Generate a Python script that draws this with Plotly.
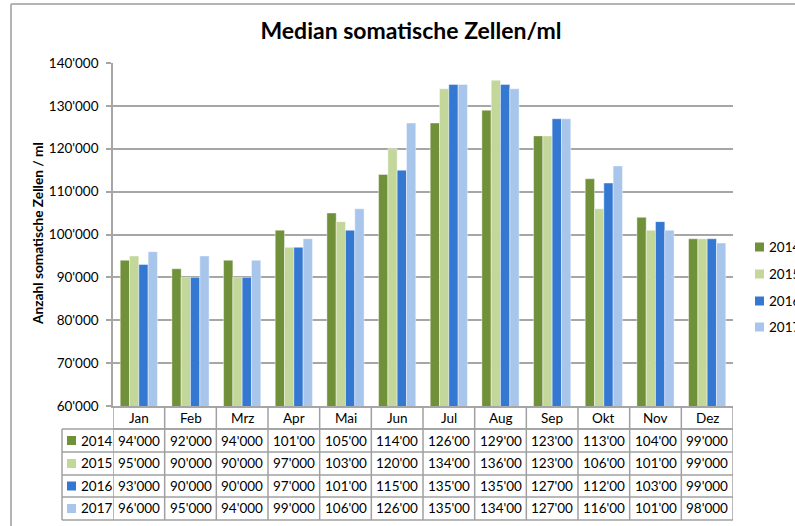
import plotly.graph_objects as go

months = ["Jan", "Feb", "Mrz", "Apr", "Mai", "Jun", "Jul", "Aug", "Sep", "Okt", "Nov", "Dez"]
years = ["2014", "2015", "2016", "2017"]
v2014 = [94000, 92000, 94000, 101000, 105000, 114000, 126000, 129000, 123000, 113000, 104000, 99000]
v2015 = [95000, 90000, 90000, 97000, 103000, 120000, 134000, 136000, 123000, 106000, 101000, 99000]
v2016 = [93000, 90000, 90000, 97000, 101000, 115000, 135000, 135000, 127000, 112000, 103000, 99000]
v2017 = [96000, 95000, 94000, 99000, 106000, 126000, 135000, 134000, 127000, 116000, 101000, 98000]
series = [v2014, v2015, v2016, v2017]
colors = ["#71903A", "#C4D79B", "#3478D2", "#A8C6EC"]
yticks = [60000, 70000, 80000, 90000, 100000, 110000, 120000, 130000, 140000]

W, H = 795, 526
L, R, T, B = 113, 733, 63, 406
FONT = "Lato"

def px(x):
    return (x - L) / (R - L)

def py(y):
    return (B - y) / (B - T)

def fmt(v):
    return f"{v:,}".replace(",", "'")[:6]

fig = go.Figure()
for i, (yr, vals) in enumerate(zip(years, series)):
    fig.add_trace(go.Bar(
        x=months, y=vals, name=yr, marker_color=colors[i],
        marker_line_color="rgba(255,255,255,0.6)", marker_line_width=0.7,
        showlegend=False,
    ))

shapes = []
grid_col = "#A6A6A6"
tab_col = "#A0A0A0"
# outer chart border
shapes.append(dict(type="line", xref="paper", yref="paper", x0=px(11), x1=px(800), y0=py(4), y1=py(4),
                   line=dict(color="#B4B4B4", width=2)))
shapes.append(dict(type="line", xref="paper", yref="paper", x0=px(11), x1=px(11), y0=py(4), y1=py(530),
                   line=dict(color="#B4B4B4", width=2)))

row_y = [406, 429, 452, 475, 497, 520]
shapes.append(dict(type="line", xref="paper", yref="paper", x0=px(L), x1=px(R), y0=py(row_y[1]), y1=py(row_y[1]),
                   line=dict(color=tab_col, width=1.5)))
for yv in row_y[1:]:
    shapes.append(dict(type="line", xref="paper", yref="paper", x0=px(62), x1=px(R), y0=py(yv), y1=py(yv),
                       line=dict(color=tab_col, width=1.5)))
for k in range(len(months) + 1):
    shapes.append(dict(type="line", xref="x", yref="paper", x0=k - 0.5, x1=k - 0.5, y0=py(row_y[0]), y1=py(row_y[-1]),
                       line=dict(color=tab_col, width=1.5)))
shapes.append(dict(type="line", xref="paper", yref="paper", x0=px(62), x1=px(62), y0=py(row_y[1]), y1=py(row_y[-1]),
                   line=dict(color=tab_col, width=1.5)))

TXT = dict(family=FONT, size=13.5, color="#000")
annotations = []
for k, m in enumerate(months):
    annotations.append(dict(x=k, y=py((row_y[0] + row_y[1]) / 2), xref="x", yref="paper", text=m,
                            xanchor="center", yanchor="middle", showarrow=False, font=TXT))
for r, (yr, vals) in enumerate(zip(years, series)):
    yc = py((row_y[r + 1] + row_y[r + 2]) / 2)
    shapes.append(dict(type="rect", xref="paper", yref="paper", x0=px(67), x1=px(76),
                       y0=yc - 4.5 / (B - T), y1=yc + 4.5 / (B - T),
                       fillcolor=colors[r], line=dict(width=0)))
    annotations.append(dict(x=px(79), y=yc, xref="paper", yref="paper", text=yr, xanchor="left",
                            yanchor="middle", showarrow=False, font=TXT))
    for k, v in enumerate(vals):
        annotations.append(dict(x=k, y=yc, xref="x", yref="paper", text=fmt(v),
                                xanchor="center", yanchor="middle", showarrow=False, font=TXT))

# legend (manual, right side)
leg_y = [247, 274, 301, 327]
for r, yr in enumerate(years):
    yc = py(leg_y[r])
    shapes.append(dict(type="rect", xref="paper", yref="paper", x0=px(755), x1=px(764),
                       y0=yc - 4.5 / (B - T), y1=yc + 4.5 / (B - T),
                       fillcolor=colors[r], line=dict(width=0)))
    annotations.append(dict(x=px(767), y=yc, xref="paper", yref="paper", text=yr, xanchor="left",
                            yanchor="middle", showarrow=False, font=TXT))

annotations.append(dict(x=px(38), y=py(234), xref="paper", yref="paper", text="<b>Anzahl somatische Zellen / ml</b>",
                        textangle=-90, xanchor="center", yanchor="middle", showarrow=False,
                        font=dict(family=FONT, size=13.7, color="#000")))

fig.update_layout(
    width=W, height=H,
    margin=dict(l=L, r=W - R, t=T, b=H - B, pad=0),
    paper_bgcolor="white", plot_bgcolor="white",
    separators=".'",
    title=dict(text="<b>Median somatische Zellen/ml</b>", x=px(411), xref="paper", xanchor="center",
               y=1 - 31 / H, yanchor="middle", font=dict(family=FONT, size=23, color="#000")),
    barmode="group", bargap=0.28, bargroupgap=0,
    showlegend=False,
    xaxis=dict(type="category", range=[-0.5, 11.5], showticklabels=False, showline=True, linecolor=grid_col,
               linewidth=1.5, ticks="", showgrid=False, zeroline=False, automargin=False),
    yaxis=dict(range=[60000, 140000], tickvals=yticks, tickformat=",d", showgrid=True, gridcolor=grid_col,
               gridwidth=1.5, showline=True, linecolor=grid_col, linewidth=1.5, ticks="outside", ticklen=5,
               tickcolor=grid_col, tickwidth=1.5, tickfont=dict(family=FONT, size=13.5, color="#000"),
               zeroline=False, ticklabelstandoff=5, automargin=False),
    shapes=shapes, annotations=annotations,
    font=dict(family=FONT),
)

fig.write_html("out.html", config={"displayModeBar": False},
               post_script="document.body.style.margin='0';document.body.style.overflow='hidden';")
